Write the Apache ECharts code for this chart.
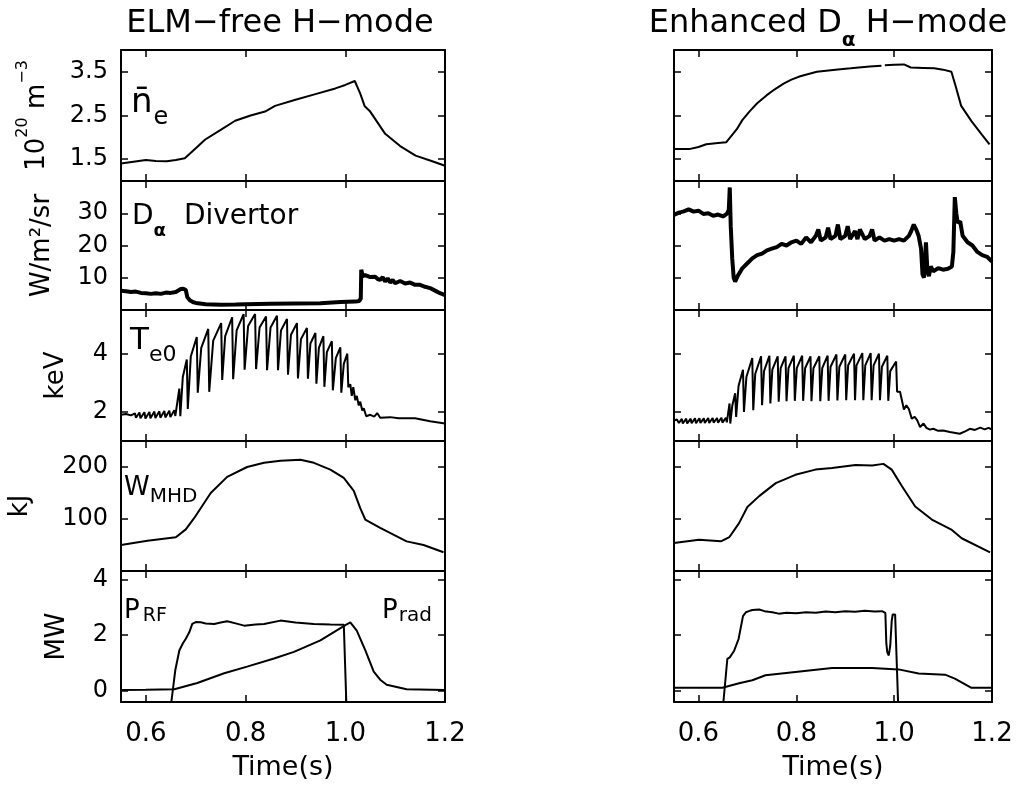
<!DOCTYPE html>
<html><head><meta charset="utf-8">
<script src="https://cdn.jsdelivr.net/npm/echarts@6/dist/echarts.min.js"></script>
<style>html,body{margin:0;padding:0;background:#fff}#c{width:1034px;height:789px}</style>
</head><body><div id="c"></div>
<script>
const FONT = 'DejaVu Sans';
const timeTicks = [0.6, 0.8, 1.0, 1.2];
const yUnits = ['{b|10}{s|20}{b| m}{s|−3}', 'W/m²/sr', 'keV', 'kJ', 'MW'];
const yMin = [1.0, 0, 1.0, 0, -0.4];
const yMax = [4.0, 40, 5.5, 250, 4.3];
const yTicks = [[1.5, 2.5, 3.5], [10, 20, 30], [2, 4], [100, 200], [0, 2, 4]];
const yDecimals = [1, 0, 0, 0, 0];
const titles = ['ELM−free H−mode', 'Enhanced Dα H−mode'];

// ---- ELM-free H-mode (left column) ----
const neLeft = [[0.55,1.40],[0.575,1.44],[0.60,1.48],[0.62,1.46],[0.642,1.45],[0.66,1.48],[0.678,1.52],[0.70,1.75],[0.719,1.95],[0.75,2.17],[0.779,2.38],[0.81,2.50],[0.839,2.59],[0.859,2.72],[0.90,2.86],[0.94,2.99],[0.98,3.12],[1.00,3.20],[1.019,3.29],[1.03,3.00],[1.039,2.71],[1.05,2.59],[1.08,2.08],[1.11,1.80],[1.141,1.58],[1.17,1.47],[1.20,1.35]];
const daLeft = [[0.55,6.0],[0.56,5.8],[0.57,5.6],[0.58,5.7],[0.59,5.3],[0.60,5.2],[0.61,5.0],[0.62,5.2],[0.63,5.0],[0.64,5.4],[0.65,5.3],[0.66,5.6],[0.67,6.5],[0.675,6.6],[0.68,6.2],[0.683,4.0],[0.688,3.0],[0.695,2.4],[0.70,2.2],[0.72,1.8],[0.75,1.6],[0.78,1.7],[0.80,1.8],[0.85,1.9],[0.90,2.0],[0.95,2.1],[0.99,2.5],[1.02,2.6],[1.028,2.8],[1.031,3.5],[1.032,12.5],[1.035,10.5],[1.04,10.8],[1.05,10.2],[1.06,10.3],[1.065,9.6],[1.07,9.3],[1.075,10.2],[1.08,8.8],[1.085,9.8],[1.09,8.5],[1.095,9.3],[1.10,8.3],[1.11,9.0],[1.12,8.2],[1.13,8.5],[1.14,7.8],[1.15,7.8],[1.16,7.2],[1.17,6.8],[1.18,6.0],[1.19,5.2],[1.20,4.6]];
const teLeft = [[0.550,1.90],[0.560,1.93],[0.570,1.88],[0.578,1.95],[0.580,1.80],[0.587,1.98],[0.589,1.78],[0.597,1.99],[0.599,1.77],[0.607,2.00],[0.609,1.78],[0.617,2.01],[0.619,1.79],[0.627,2.02],[0.629,1.80],[0.637,2.03],[0.639,1.81],[0.647,2.04],[0.649,1.82],[0.657,2.06],[0.659,1.86],
[0.667,2.80],[0.669,1.85],[0.674,3.20],[0.682,3.80],[0.684,2.10],[0.690,3.90],[0.702,4.57],[0.704,2.66],[0.711,4.20],[0.725,4.85],[0.727,2.69],[0.735,4.45],[0.751,5.05],[0.753,3.10],[0.759,4.60],[0.773,5.25],[0.775,3.12],[0.782,4.80],[0.796,5.36],[0.798,3.45],[0.805,4.95],[0.819,5.36],[0.821,3.47],[0.828,4.90],[0.841,5.28],[0.843,3.43],[0.850,4.90],[0.863,5.30],[0.865,3.43],[0.871,4.80],[0.883,5.19],[0.885,3.28],[0.891,4.65],[0.903,5.05],[0.905,3.15],[0.911,4.50],[0.923,4.88],[0.925,3.14],[0.930,4.35],[0.940,4.71],[0.942,2.97],[0.947,4.20],[0.956,4.60],[0.958,2.86],[0.963,4.05],[0.973,4.43],[0.975,2.74],[0.981,3.85],[0.990,4.22],[0.992,2.66],[0.997,3.65],[1.004,4.00],[1.006,2.85],
[1.010,2.95],[1.013,2.55],[1.016,2.85],[1.020,2.40],[1.023,2.55],[1.027,2.22],[1.030,2.35],[1.034,2.05],[1.037,2.12],[1.042,1.85],[1.050,1.90],[1.058,1.84],[1.064,1.96],[1.070,1.80],[1.090,1.82],[1.107,1.78],[1.140,1.78],[1.170,1.68],[1.200,1.60]];
const wLeft = [[0.55,50],[0.603,58],[0.66,65],[0.68,80],[0.697,102],[0.73,150],[0.763,181],[0.803,200],[0.837,208],[0.87,212],[0.91,214],[0.937,208],[0.97,195],[0.997,179],[1.017,154],[1.03,121],[1.04,99],[1.07,83],[1.123,57],[1.157,50],[1.197,36]];
const prfLeft = [[0.651,-0.4],[0.659,0.75],[0.667,1.45],[0.674,1.70],[0.68,1.87],[0.687,2.10],[0.693,2.40],[0.70,2.47],[0.71,2.46],[0.72,2.42],[0.737,2.40],[0.75,2.45],[0.763,2.50],[0.78,2.42],[0.797,2.34],[0.82,2.38],[0.837,2.40],[0.87,2.52],[0.90,2.45],[0.937,2.40],[0.97,2.38],[0.997,2.37],[1.001,2.37],[1.002,-0.4]];
const pradLeft = [[0.55,0.03],[0.60,0.04],[0.657,0.06],[0.703,0.28],[0.757,0.63],[0.803,0.87],[0.857,1.16],[0.897,1.40],[0.95,1.81],[1.001,2.37],[1.01,2.46],[1.023,2.16],[1.04,1.46],[1.057,0.69],[1.07,0.40],[1.083,0.22],[1.123,0.06],[1.20,0.03]];

// ---- Enhanced D-alpha H-mode (right column) ----
const neRight = [[0.55,1.73],[0.581,1.73],[0.60,1.78],[0.616,1.84],[0.64,1.87],[0.657,1.89],[0.678,2.18],[0.69,2.40],[0.705,2.60],[0.72,2.78],[0.739,2.96],[0.756,3.10],[0.774,3.23],[0.79,3.32],[0.808,3.40],[0.842,3.50],[0.88,3.55],[0.911,3.58],[0.95,3.62],[0.974,3.64],[0.977,'-'],[0.981,3.65],[1.00,3.66],[1.02,3.67],[1.034,3.60],[1.06,3.59],[1.082,3.58],[1.10,3.55],[1.117,3.50],[1.125,3.20],[1.137,2.72],[1.158,2.37],[1.18,2.05],[1.195,1.84]];
const daRight = [[0.55,29.5],[0.56,30.2],[0.57,30.6],[0.58,31.2],[0.59,30.5],[0.60,30.8],[0.61,29.8],[0.62,30.0],[0.63,29.2],[0.64,29.6],[0.65,29.0],[0.658,29.8],[0.662,31],[0.664,38],[0.666,26],[0.669,16],[0.672,10],[0.675,8.8],[0.68,10.5],[0.69,13],[0.70,14.5],[0.71,16],[0.72,17],[0.73,17.5],[0.74,18.5],[0.75,19],[0.76,19.5],[0.77,20.5],[0.78,20],[0.79,21],[0.80,21.5],[0.81,20.5],[0.82,22.5],[0.83,21],[0.84,23],[0.845,25],[0.85,21.5],[0.86,22.5],[0.865,25.5],[0.87,22],[0.88,23],[0.885,26.5],[0.89,22],[0.90,23],[0.905,26],[0.91,22],[0.92,24.5],[0.925,22],[0.93,25],[0.94,22],[0.95,23],[0.955,25],[0.96,21.5],[0.97,22.5],[0.98,21.5],[0.99,22],[1.00,21.5],[1.01,22],[1.02,21.5],[1.03,23],[1.035,24.5],[1.04,26.5],[1.045,25],[1.05,23],[1.055,19],[1.058,11],[1.061,10],[1.065,21],[1.068,12],[1.071,10.5],[1.075,13.5],[1.08,12],[1.09,13],[1.10,12.5],[1.11,12.8],[1.118,13.5],[1.121,18],[1.124,35],[1.127,30],[1.13,27],[1.135,27.5],[1.14,23],[1.15,21],[1.16,20],[1.17,18],[1.18,17],[1.19,16.5],[1.20,15]];
const teRight = [[0.550,1.70],[0.556,1.74],[0.560,1.62],[0.566,1.76],[0.568,1.60],[0.575,1.77],[0.577,1.60],[0.584,1.77],[0.586,1.61],[0.593,1.78],[0.595,1.61],[0.602,1.78],[0.604,1.62],[0.611,1.78],[0.613,1.62],[0.620,1.79],[0.622,1.62],[0.629,1.79],[0.631,1.63],[0.638,1.79],[0.640,1.63],[0.647,1.80],[0.649,1.63],[0.656,1.80],[0.658,1.64],
[0.6635,2.29],[0.665,1.60],[0.669,2.20],[0.675,2.64],[0.677,1.83],[0.682,2.90],[0.691,3.45],[0.693,2.00],[0.698,3.20],[0.710,3.85],[0.712,2.06],[0.716,3.30],[0.728,3.91],[0.730,2.23],[0.734,3.40],[0.745,3.93],[0.747,2.29],[0.751,3.45],[0.762,3.91],[0.764,2.35],[0.768,3.50],[0.778,3.91],[0.780,2.37],[0.784,3.50],[0.795,3.93],[0.797,2.38],[0.801,3.50],[0.812,3.93],[0.814,2.38],[0.818,3.50],[0.829,3.91],[0.831,2.37],[0.835,3.50],[0.847,3.91],[0.849,2.37],[0.853,3.50],[0.864,3.93],[0.866,2.38],[0.870,3.55],[0.882,3.97],[0.884,2.39],[0.888,3.55],[0.900,3.97],[0.902,2.40],[0.906,3.60],[0.918,4.00],[0.920,2.40],[0.923,3.60],[0.935,4.02],[0.937,2.40],[0.941,3.60],[0.952,4.02],[0.954,2.40],[0.958,3.60],[0.969,4.00],[0.971,2.40],[0.975,3.55],[0.986,3.93],[0.988,2.38],[0.992,3.40],[1.004,3.73],[1.006,2.69],
[1.012,2.69],[1.015,2.64],[1.020,2.08],[1.025,2.23],[1.030,2.10],[1.036,1.77],[1.042,1.83],[1.047,1.72],[1.053,1.48],[1.060,1.60],[1.066,1.45],[1.073,1.39],[1.080,1.42],[1.090,1.35],[1.100,1.36],[1.114,1.31],[1.134,1.25],[1.145,1.33],[1.155,1.42],[1.165,1.38],[1.176,1.46],[1.185,1.40],[1.193,1.45],[1.200,1.39]];
const wRight = [[0.55,54],[0.601,60],[0.646,57],[0.663,65],[0.683,92],[0.70,123],[0.724,144],[0.758,169],[0.798,185],[0.839,195],[0.873,198],[0.921,204],[0.955,203],[0.978,206],[0.995,195],[1.016,163],[1.043,124],[1.077,99],[1.118,79],[1.138,63],[1.196,36]];
const prfRight = [[0.651,-0.4],[0.659,1.15],[0.664,1.20],[0.668,1.27],[0.673,1.44],[0.682,1.86],[0.691,2.68],[0.697,2.82],[0.703,2.86],[0.71,2.90],[0.724,2.92],[0.735,2.86],[0.751,2.82],[0.764,2.77],[0.78,2.80],[0.80,2.78],[0.82,2.82],[0.84,2.80],[0.86,2.85],[0.88,2.82],[0.90,2.86],[0.92,2.84],[0.94,2.87],[0.96,2.85],[0.975,2.86],[0.982,2.80],[0.984,1.70],[0.986,1.38],[0.989,1.27],[0.992,1.62],[0.995,2.50],[0.997,2.74],[1.002,2.74],[1.008,-0.4]];
const pradRight = [[0.55,0.11],[0.649,0.11],[0.683,0.27],[0.71,0.38],[0.737,0.56],[0.798,0.68],[0.873,0.82],[0.955,0.82],[1.009,0.77],[1.05,0.62],[1.104,0.58],[1.124,0.44],[1.158,0.11],[1.20,0.11]];

const panelData = [
  [[neLeft], [daLeft], [teLeft], [wLeft], [prfLeft, pradLeft]],
  [[neRight], [daRight], [teRight], [wRight], [prfRight, pradRight]]
];

// ---- layout ----
const rowsTop = [50, 181, 310, 441, 571];
const rowsH = [131, 129, 131, 130, 131];
const cols = [{left: 121, width: 324}, {left: 674, width: 318}];
const nameGaps = [71, 66, 52, 88, 51];
const lineW = [2, 4, 2, 2, 2];

const grids = [], xAxes = [], yAxes = [], series = [];
const frame = {show: true, onZero: false, lineStyle: {color: '#000', width: 2}};
const nameRich = {
  b: {fontSize: 26, fontFamily: FONT, color: '#000', verticalAlign: 'top', padding: [9, 0, 0, 0]},
  s: {fontSize: 16, fontFamily: FONT, color: '#000', verticalAlign: 'top'}
};
function xAxis(g, pos, showLabels) {
  return {
    type: 'value', gridIndex: g, position: pos, min: 0.55, max: 1.2,
    axisLine: frame,
    axisTick: {show: true, inside: true, length: 7, customValues: timeTicks, lineStyle: {color: '#000', width: 1.5}},
    axisLabel: {show: showLabels, customValues: timeTicks, formatter: v => v.toFixed(1), fontSize: 26, fontFamily: FONT, color: '#000', margin: 19},
    splitLine: {show: false},
    name: showLabels ? 'Time(s)' : '', nameLocation: 'middle', nameGap: 52,
    nameTextStyle: {fontSize: 27, fontFamily: FONT, color: '#000'}
  };
}
function yAxis(g, r, pos, showLabels) {
  return {
    type: 'value', gridIndex: g, position: pos, min: yMin[r], max: yMax[r],
    axisLine: frame,
    axisTick: {show: true, inside: true, length: 7, customValues: yTicks[r], lineStyle: {color: '#000', width: 1.5}},
    axisLabel: {show: showLabels, customValues: yTicks[r], formatter: v => v.toFixed(yDecimals[r]), fontSize: 24, fontFamily: FONT, color: '#000', margin: 13},
    splitLine: {show: false},
    name: showLabels ? yUnits[r] : '', nameLocation: 'middle', nameGap: nameGaps[r],
    nameTextStyle: {fontSize: 26, fontFamily: FONT, color: '#000', rich: nameRich}
  };
}
for (let c = 0; c < 2; c++) {
  for (let r = 0; r < 5; r++) {
    const g = c * 5 + r;
    grids.push({left: cols[c].left, width: cols[c].width, top: rowsTop[r], height: rowsH[r]});
    xAxes.push(xAxis(g, 'bottom', r === 4));
    xAxes.push(xAxis(g, 'top', false));
    yAxes.push(yAxis(g, r, 'left', c === 0));
    yAxes.push(yAxis(g, r, 'right', false));
    panelData[c][r].forEach(d => series.push({
      type: 'line', xAxisIndex: 2 * g, yAxisIndex: 2 * g, data: d,
      showSymbol: false, symbol: 'none', silent: true, connectNulls: false,
      lineStyle: {color: '#000', width: lineW[r]}, z: 3
    }));
  }
}

function rs(fs, pad, bold) {
  const o = {fontSize: fs, fontFamily: FONT, fill: '#000', verticalAlign: 'top'};
  if (pad) o.padding = pad;
  if (bold) o.fontWeight = 'bold';
  return o;
}
function lbl(x, y, text, rich, align) {
  return {type: 'text', x: x, y: y, silent: true, z: 10,
    style: {text: text, rich: rich, fill: '#000', align: align || 'left', verticalAlign: 'top', fontFamily: FONT, fontSize: 25}};
}
const graphics = [
  {type: 'text', x: 280, y: 24, silent: true, style: {text: titles[0], fontSize: 32, fontFamily: FONT, fill: '#000', align: 'center', verticalAlign: 'middle'}},
  lbl(828, 8, '{m|Enhanced D}{a|α}{m| H−mode}', {m: rs(32), a: rs(20, [23, 0, 0, 0], true)}, 'center'),
  lbl(131, 86, '{m|n̄}{s|e}', {m: rs(34), s: rs(24, [20, 0, 0, 1])}),
  lbl(132, 203, '{m|D}{a|α}{d|Divertor}', {m: rs(28), a: rs(18, [19, 0, 0, 0], true), d: rs(28, [0, 0, 0, 18])}),
  lbl(130, 325, '{m|T}{s|e0}', {m: rs(31), s: rs(22, [19, 0, 0, 0])}),
  lbl(124, 475, '{m|W}{s|MHD}', {m: rs(26), s: rs(20, [12, 0, 0, 0])}),
  lbl(124, 598, '{m|P}{s|RF}', {m: rs(26), s: rs(19, [9, 0, 0, 3])}),
  lbl(382, 598, '{m|P}{s|rad}', {m: rs(26), s: rs(20, [8, 0, 0, 1])})
];

const chart = echarts.init(document.getElementById('c'), null, {renderer: 'canvas'});
chart.setOption({
  animation: false,
  backgroundColor: '#fff',
  textStyle: {fontFamily: FONT},
  grid: grids, xAxis: xAxes, yAxis: yAxes, series: series,
  graphic: graphics
});
</script></body></html>
